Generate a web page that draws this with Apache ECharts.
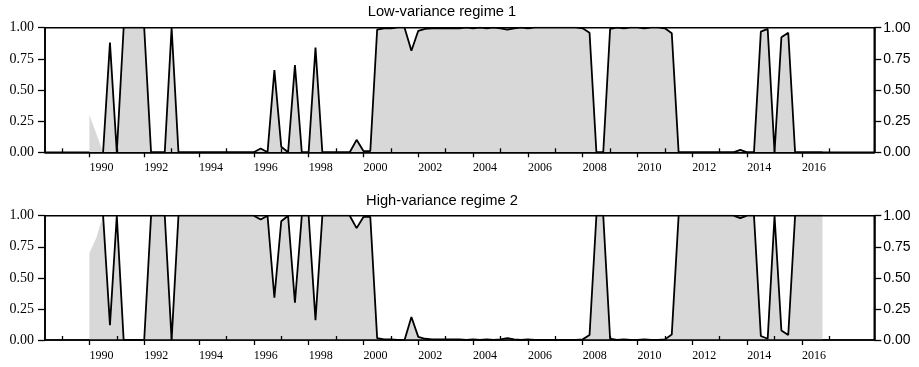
<!DOCTYPE html>
<html>
<head>
<meta charset="utf-8">
<script src="https://cdn.jsdelivr.net/npm/echarts@6/dist/echarts.min.js"></script>
<style>
  html, body { margin: 0; padding: 0; background: #fff; }
  #chart { width: 919px; height: 367px; }
</style>
</head>
<body>
<div id="chart"></div>
<script>
// quarterly observations, first one is 1990Q1
const startYear = 1990;
const majorYears = [1990, 1992, 1994, 1996, 1998, 2000, 2002, 2004, 2006, 2008, 2010, 2012, 2014, 2016];
const minorYears = [1989, 1991, 1993, 1995, 1997, 1999, 2001, 2003, 2005, 2007, 2009, 2011, 2013, 2015, 2017];
const titles = ['Low-variance regime 1', 'High-variance regime 2'];

// grey shading, regime 1
const shaded1 = [
  0.30, 0.15, 0, 0.88,   0, 1, 1, 1,   1, 0, 0, 0,   1, 0, 0, 0,
  0, 0, 0, 0,   0, 0, 0, 0,   0, 0.03, 0, 0.66,   0.045, 0, 0.70, 0,
  0, 0.84, 0, 0,   0, 0, 0, 0.10,   0.01, 0.01, 0.985, 0.995,   0.995, 1, 1, 0.815,
  0.975, 0.99, 0.995, 0.995,   0.995, 0.995, 0.995, 1,   0.995, 1, 0.995, 1,   0.995, 0.985, 0.995, 1,
  0.995, 1, 1, 1,   1, 1, 1, 1,   0.995, 0.96, 0, 0,   0.99, 1, 0.995, 1,
  1, 0.995, 1, 1,   0.995, 0.955, 0, 0,   0, 0, 0, 0,   0, 0, 0, 0.02,
  0, 0, 0.968, 0.99,   0, 0.923, 0.96, 0,   0, 0, 0, 0
];
// black line, regime 1
const filtered1 = [
  null, null, 0, 0.88,   0, 1, 1, 1,   1, 0, 0, 0,   1, 0, 0, 0,
  0, 0, 0, 0,   0, 0, 0, 0,   0, 0.03, 0, 0.66,   0.045, 0, 0.70, 0,
  0, 0.84, 0, 0,   0, 0, 0, 0.10,   0.01, 0.01, 0.985, 0.995,   0.995, 1, 1, 0.815,
  0.975, 0.99, 0.995, 0.995,   0.995, 0.995, 0.995, 1,   0.995, 1, 0.995, 1,   0.995, 0.985, 0.995, 1,
  0.995, 1, 1, 1,   1, 1, 1, 1,   0.995, 0.96, 0, 0,   0.99, 1, 0.995, 1,
  1, 0.995, 1, 1,   0.995, 0.955, 0, 0,   0, 0, 0, 0,   0, 0, 0, 0.02,
  0, 0, 0.968, 0.99,   0, 0.923, 0.96, 0,   0, 0, 0, 0
];
// grey shading, regime 2
const shaded2 = [
  0.70, 0.82, 1, 0.12,   1, 0, 0, 0,   0, 1, 1, 1,   0, 1, 1, 1,
  1, 1, 1, 1,   1, 1, 1, 1,   1, 0.97, 1, 0.34,   0.955, 1, 0.30, 1,
  1, 0.16, 1, 1,   1, 1, 1, 0.90,   0.99, 0.99, 0.015, 0.005,   0.005, 0, 0, 0.185,
  0.025, 0.01, 0.005, 0.005,   0.005, 0.005, 0.005, 0,   0.005, 0, 0.005, 0,   0.005, 0.015, 0.005, 0,
  0.005, 0, 0, 0,   0, 0, 0, 0,   0.005, 0.04, 1, 1,   0.01, 0, 0.005, 0,
  0, 0.005, 0, 0,   0.005, 0.045, 1, 1,   1, 1, 1, 1,   1, 1, 1, 0.98,
  1, 1, 0.032, 0.01,   1, 0.077, 0.04, 1,   1, 1, 1, 1
];
// black line, regime 2
const filtered2 = [
  null, null, 1, 0.12,   1, 0, 0, 0,   0, 1, 1, 1,   0, 1, 1, 1,
  1, 1, 1, 1,   1, 1, 1, 1,   1, 0.97, 1, 0.34,   0.955, 1, 0.30, 1,
  1, 0.16, 1, 1,   1, 1, 1, 0.90,   0.99, 0.99, 0.015, 0.005,   0.005, 0, 0, 0.185,
  0.025, 0.01, 0.005, 0.005,   0.005, 0.005, 0.005, 0,   0.005, 0, 0.005, 0,   0.005, 0.015, 0.005, 0,
  0.005, 0, 0, 0,   0, 0, 0, 0,   0.005, 0.04, 1, 1,   0.01, 0, 0.005, 0,
  0, 0.005, 0, 0,   0.005, 0.045, 1, 1,   1, 1, 1, 1,   1, 1, 1, 0.98,
  1, 1, 0.032, 0.01,   1, 0.077, 0.04, 1,   1, 1, 1, 1
];

const toPoints = (arr) => arr.map((v, i) => [startYear + i / 4, v == null ? '-' : v]);

const xMin = 1988.38;
const xMax = 2018.64;
const grids = [
  { left: 45, width: 829.3, top: 27.7, height: 124.6 },
  { left: 45, width: 829.3, top: 215.7, height: 124.3 },
];
const titleTops = [4, 193];

const black = '#000';
const grey = '#d8d8d8';

const xAxes = [];
const yAxes = [];
const series = [];
grids.forEach((g, i) => {
  xAxes.push({
    type: 'value', gridIndex: i, min: xMin, max: xMax, z: 10,
    axisLine: { onZero: false, lineStyle: { color: black, width: 1.6 } },
    splitLine: { show: false },
    axisTick: { customValues: majorYears, length: 5, lineStyle: { color: black, width: 1.3 } },
    axisLabel: {
      customValues: majorYears, align: 'left', margin: 10, color: black,
      fontFamily: 'Liberation Serif', fontSize: 12,
      formatter: (v) => String(Math.round(v)),
    },
  });
  xAxes.push({
    type: 'value', gridIndex: i, position: 'bottom', min: xMin, max: xMax, z: 10,
    axisLine: { show: false },
    splitLine: { show: false },
    axisLabel: { show: false },
    axisTick: { inside: true, customValues: minorYears, length: 4, lineStyle: { color: black, width: 1.3 } },
  });
  yAxes.push({
    type: 'value', gridIndex: i, position: 'left', min: 0, max: 1, interval: 0.25, z: 10,
    axisLine: { show: true, lineStyle: { color: black, width: 1.6 } },
    axisTick: { show: true, length: 7, lineStyle: { color: black, width: 1.3 } },
    splitLine: { show: false },
    axisLabel: {
      margin: 11, color: black, fontFamily: 'Liberation Serif', fontSize: 14,
      formatter: (v) => v.toFixed(2),
    },
  });
  yAxes.push({
    type: 'value', gridIndex: i, position: 'right', min: 0, max: 1, interval: 0.25, z: 10,
    axisLine: { show: true, lineStyle: { color: black, width: 1.6 } },
    axisTick: { show: true, length: 7, lineStyle: { color: black, width: 1.3 } },
    splitLine: { show: false },
    axisLabel: {
      margin: 9, color: black, fontFamily: 'Liberation Sans', fontSize: 14,
      formatter: (v) => v.toFixed(2),
    },
  });
});

const panels = [
  { shaded: shaded1, filtered: filtered1 },
  { shaded: shaded2, filtered: filtered2 },
];
panels.forEach((p, i) => {
  series.push({
    type: 'line', xAxisIndex: i * 2, yAxisIndex: i * 2,
    data: toPoints(p.shaded), symbol: 'none', silent: true, z: 1,
    lineStyle: { width: 0 },
    areaStyle: { color: grey, opacity: 1 },
  });
  series.push({
    type: 'line', xAxisIndex: i * 2, yAxisIndex: i * 2,
    data: toPoints(p.filtered), symbol: 'none', silent: true, z: 3,
    lineStyle: { color: black, width: 1.8 },
  });
});

const myChart = echarts.init(document.getElementById('chart'));
myChart.setOption({
  animation: false,
  backgroundColor: '#fff',
  grid: grids.map((g) => ({ ...g, show: true, borderColor: black, borderWidth: 1.6, backgroundColor: 'transparent' })),
  xAxis: xAxes,
  yAxis: yAxes,
  series: series,
  graphic: titles.map((t, i) => ({
    type: 'text', x: 442, y: titleTops[i], z: 20,
    style: { text: t, align: 'center', verticalAlign: 'top', font: '14.7px "Liberation Sans"', fill: black },
  })),
});
</script>
</body>
</html>
